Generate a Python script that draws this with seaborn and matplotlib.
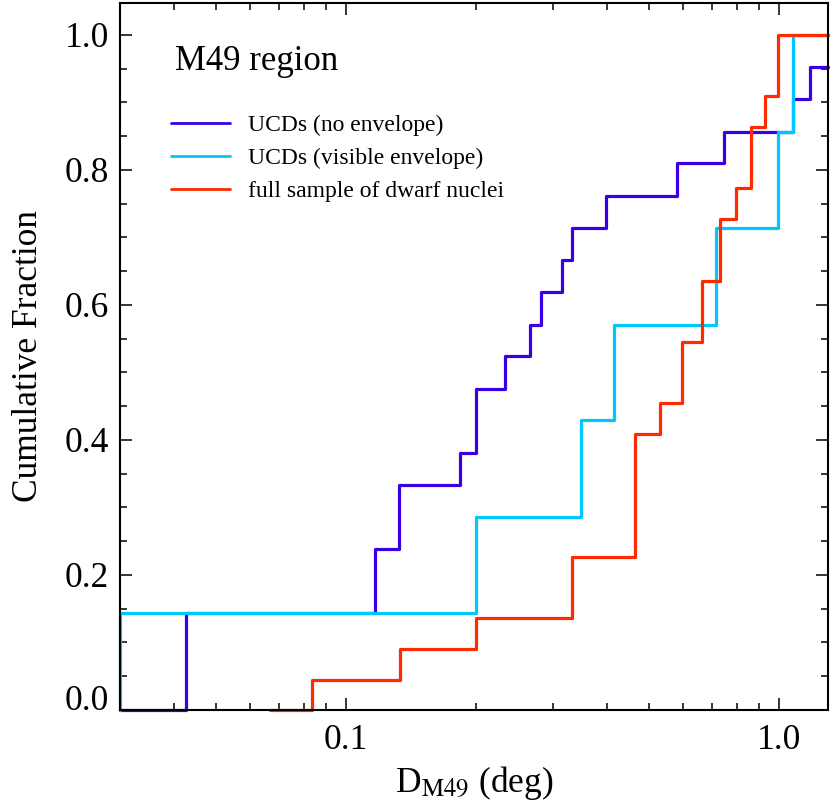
import numpy as np
import pandas as pd
import matplotlib
matplotlib.use("Agg")
import matplotlib.pyplot as plt
import matplotlib.ticker as mticker
from matplotlib.lines import Line2D
import seaborn as sns

# ---- data (step positions, cumulative fraction) ----
noenv_x = [0.03, 0.0427, 0.1167, 0.1325, 0.1834, 0.1996, 0.2329, 0.2660, 0.2820,
           0.3153, 0.3325, 0.3986, 0.5813, 0.7464, 1.077, 1.179, 1.3]
noenv_y = [0.0, 0.143, 0.238, 0.333, 0.381, 0.476, 0.524, 0.571, 0.619,
           0.667, 0.714, 0.762, 0.810, 0.857, 0.905, 0.952, 0.952]

visenv_x = [0.03, 0.03, 0.1996, 0.3489, 0.4158, 0.7153, 0.9947, 1.077, 1.3]
visenv_y = [0.0, 0.143, 0.286, 0.429, 0.571, 0.714, 0.857, 1.0, 1.0]

nuclei_x = [0.0668, 0.0835, 0.1332, 0.1996, 0.3325, 0.4650, 0.5312, 0.5970, 0.6642,
            0.7307, 0.7958, 0.8615, 0.9284, 0.9947, 1.3]
nuclei_y = [0.0, 0.045, 0.091, 0.136, 0.227, 0.409, 0.455, 0.545, 0.636,
            0.727, 0.773, 0.864, 0.909, 1.0, 1.0]

labels = ["UCDs (no envelope)", "UCDs (visible envelope)", "full sample of dwarf nuclei"]
colors = ["#3A00E4", "#00C8FF", "#FF2A00"]

sns.set_theme(style="ticks")
plt.rcParams["font.family"] = ["Liberation Serif", "DejaVu Serif"]
plt.rcParams["mathtext.fontset"] = "stix"
for k in ["text.color", "axes.labelcolor", "xtick.color", "ytick.color", "axes.edgecolor"]:
    plt.rcParams[k] = "black"

fig = plt.figure(figsize=(8.31, 8.10), dpi=100)
ax = fig.add_axes([120 / 831, 1 - 710 / 810, 708 / 831, 707 / 810])

series = [(noenv_x, noenv_y), (visenv_x, visenv_y), (nuclei_x, nuclei_y)]
for (xs, ys), lab, col in zip(series, labels, colors):
    df = pd.DataFrame({"D": xs, "frac": ys})
    sns.lineplot(data=df, x="D", y="frac", ax=ax, color=col, lw=2.3,
                 drawstyle="steps-post", estimator=None, sort=False,
                 legend=False, clip_on=False)

ax.set_xscale("log")
ax.set_xlim(0.03, 1.3)
ax.set_ylim(0.0, 1.0474)

ax.xaxis.set_major_locator(mticker.FixedLocator([0.1, 1.0]))
ax.xaxis.set_major_formatter(mticker.FixedFormatter(["0.1", "1.0"]))
ax.xaxis.set_minor_locator(mticker.LogLocator(base=10, subs=np.arange(2, 10)))
ax.xaxis.set_minor_formatter(mticker.NullFormatter())
ax.yaxis.set_major_locator(mticker.FixedLocator([0.0, 0.2, 0.4, 0.6, 0.8, 1.0]))
ax.yaxis.set_minor_locator(mticker.MultipleLocator(0.05))
ax.yaxis.set_major_formatter(mticker.FormatStrFormatter("%.1f"))

ax.tick_params(which="both", direction="in", top=True, right=True,
               width=1.1, color="black", labelsize=25.5, labelcolor="black")
ax.tick_params(which="major", length=8.5)
ax.tick_params(which="minor", length=4.8)
ax.tick_params(axis="x", which="major", pad=10)
ax.tick_params(axis="y", which="major", pad=8)
for s in ax.spines.values():
    s.set_linewidth(1.5)
    s.set_color("black")

ax.set_xlabel(r"D$_{\rm M49}$ (deg)", fontsize=25.5, labelpad=5)
ax.set_ylabel("Cumulative Fraction", fontsize=25.5, labelpad=14)

ax.text(0.078, 0.905, "M49 region", transform=ax.transAxes, fontsize=25,
        ha="left", va="baseline")

handles = [Line2D([0], [0], color=c, lw=2.0) for c in colors]
ax.legend(handles, labels, loc="upper left", bbox_to_anchor=(0.058, 0.855),
          frameon=False, fontsize=17, handlelength=2.5, handletextpad=0.8,
          labelspacing=0.48, borderaxespad=0)

fig.canvas.draw()
for t in ax.yaxis.get_major_ticks():
    if abs(t.get_loc()) < 1e-9:
        t.label1.set_verticalalignment("baseline")

fig.savefig("out.png", dpi=100)
